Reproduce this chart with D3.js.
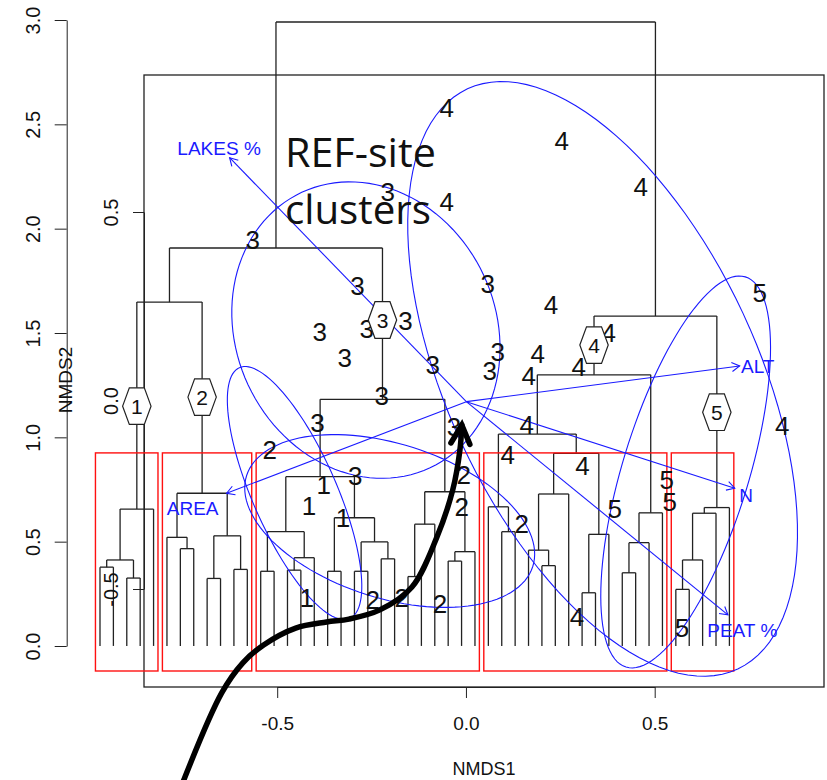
<!DOCTYPE html>
<html><head><meta charset="utf-8">
<script src="https://cdn.jsdelivr.net/npm/d3@7"></script>
<style>body{margin:0;background:#fff}svg{display:block}</style>
</head><body>
<svg id="c" width="827" height="780"></svg>
<script>
// ---------- DATA ----------
const xTicks = [-0.5, 0, 0.5];
const yTicks = [0, 0.5, 1, 1.5, 2, 2.5, 3];
const dendroTicks = [-0.5, 0, 0.5];
const xTitle = "NMDS1", yTitle = "NMDS2";

// NMDS site scores per REF-site cluster
const siteGroup1 = [[-0.377,0.772],[-0.416,0.671],[-0.326,0.613],[-0.422,0.230]];
const siteGroup2 = [[-0.520,0.939],[-0.006,0.820],[-0.011,0.666],[0.148,0.585],[-0.247,0.220],[-0.170,0.230],[-0.069,0.201]];
const siteGroup3 = [[-0.207,2.176],[-0.565,1.946],[-0.287,1.725],[0.058,1.735],[-0.387,1.505],[-0.263,1.519],[-0.160,1.558],[-0.321,1.380],[-0.088,1.347],[0.084,1.409],[0.063,1.318],[-0.223,1.198],[-0.393,1.069],[-0.032,1.050],[-0.293,0.815]];
const siteGroup4 = [[-0.051,2.578],[0.254,2.420],[0.463,2.200],[-0.051,2.128],[0.225,1.634],[0.378,1.500],[0.190,1.399],[0.299,1.337],[0.166,1.294],[0.161,1.059],[0.111,0.915],[0.309,0.863],[0.838,1.054],[0.294,0.139]];
const siteGroup5 = [[0.778,1.692],[0.532,0.796],[0.540,0.690],[0.394,0.657],[0.572,0.086]];
const siteGroups = [siteGroup1, siteGroup2, siteGroup3, siteGroup4, siteGroup5];

// cluster ellipses: centre and conjugate semi-axes (NMDS units)
const ellipseCentre = [[-0.454,0.733],[-0.202,0.599],[-0.265,1.514],[0.362,1.280],[0.582,0.834]];
const ellipseAxisU  = [[0.146,-0.601],[0.379,-0.218],[0.170,-0.660],[0.358,-1.390],[-0.158,-0.935]];
const ellipseAxisV  = [[-0.102,-0.081],[-0.062,-0.352],[-0.312,-0.263],[-0.372,-0.314],[-0.160,0.088]];

// environmental fitted vectors
const envNames = ["LAKES %", "ALT", "N", "PEAT %", "AREA"];
const envX = [-0.626, 0.725, 0.712, 0.694, -0.634];
const envY = [2.340, 1.342, 0.756, 0.149, 0.732];
const envLabX = [-0.654, 0.773, 0.742, 0.732, -0.724];
const envLabY = [2.385, 1.342, 0.724, 0.077, 0.660];
const envOrigin = [0.001, 1.171];

// dendrogram (hclust, hang = -1): [height, left, right], leaves = order index
const c1 = [-0.288, [-0.423, [-0.442, 1, 2], [-0.471, 3, 4]], 5];
const c2 = [-0.246, [-0.363, 6, [-0.393, 7, 8]], [-0.359, [-0.472, 9, 10], [-0.448, 11, 12]]];
const c3 = [0.003,
  [-0.202,
    [-0.348, [-0.453, 13, 14], [-0.417, [-0.450, 15, 16], 17]],
    [-0.311, [-0.453, 18, 19], [-0.375, [-0.453, 20, 21], [-0.420, 22, 23]]]],
  [-0.242,
    [-0.328, [-0.467, 24, 25], 26],
    [-0.401, [-0.426, 27, 28], 29]]];
const c4 = [0.068,
  [-0.089,
    [-0.282, 30, [-0.348, 31, 32]],
    [-0.140,
      [-0.248, [-0.397, 33, [-0.438, 34, 35]], 36],
      [-0.355, [-0.510, 37, 38], 39]]],
  [-0.298, [-0.377, [-0.457, 40, 41], 42], 43]];
const c5 = [-0.284, [-0.299, [-0.423, [-0.501, 44, 45], 46], 47], 48];
const dendroRoot = [1.004, [0.4045, [0.261, c1, c2], c3], [0.224, c4, c5]];
const nLeaves = 48;
const leafHeight = -0.651;
const clusterLeafRange = [[1,5],[6,12],[13,29],[30,43],[44,48]];
const clusterRectTop = -0.139, clusterRectBottom = -0.7175;
const clusterMarkH = [-0.015, 0.009, 0.2135, 0.147, -0.031];
const clusterNames = ["1","2","3","4","5"];

// annotation arrow path (NMDS units)
const annotX = [-0.760,-0.647,-0.591,-0.536,-0.451,-0.369,-0.310,-0.228,-0.143,-0.077,-0.035,-0.016,-0.011];
const annotY = [-0.700,-0.225,-0.081,0.005,0.086,0.115,0.129,0.173,0.283,0.522,0.748,0.939,1.059];
const annotText = ["REF-site", "clusters"];

// ---------- SCALES ----------
const svg = d3.select("#c");
const x = d3.scaleLinear().domain([-0.5, 0.5]).range([277.2, 654.7]);
const y = d3.scaleLinear().domain([0, 3]).range([646, 20]);
const leafX = d3.scaleLinear().domain([1, nLeaves]).range([100, 729.4]);
const hY = d3.scaleLinear().domain([-0.5, 0.5]).range([589, 212]);
const AX = "Liberation Sans, Arial, sans-serif";
const fmt = d => d.toFixed(1);
const blue = "#1a1aff";

// ---------- DENDROGRAM ----------
const gD = svg.append("g");
const segs = [];
function lay(node) {
  if (typeof node === "number") return {x: leafX(node), h: leafHeight};
  const [h, a, b] = node;
  const A = lay(a), B = lay(b);
  segs.push([A.x, hY(h), B.x, hY(h)]);
  segs.push([A.x, hY(A.h), A.x, hY(h)]);
  segs.push([B.x, hY(B.h), B.x, hY(h)]);
  node._x = (A.x + B.x) / 2;
  return {x: node._x, h: h};
}
lay(dendroRoot);
gD.selectAll("line").data(segs).join("line")
  .attr("x1", d => d[0]).attr("y1", d => d[1]).attr("x2", d => d[2]).attr("y2", d => d[3])
  .attr("stroke", "#222").attr("stroke-width", 1.3);

// inner box + dendrogram axis
svg.append("rect").attr("x", 144).attr("y", 75).attr("width", 680).attr("height", 612)
  .attr("fill", "none").attr("stroke", "#222").attr("stroke-width", 1.3);
const gIA = svg.append("g").attr("transform", "translate(144,0)")
  .call(d3.axisLeft(hY).tickValues(dendroTicks).tickSize(11).tickSizeOuter(0).tickFormat(fmt));
gIA.select(".domain").attr("stroke", "#222");
gIA.selectAll(".tick line").attr("stroke", "#222");
gIA.selectAll("text").attr("transform", "rotate(-90)").attr("x", 0).attr("y", -26).attr("dy", 0)
  .attr("text-anchor", "middle").attr("font-family", AX).attr("font-size", 20).attr("fill", "#111");

// red cluster rectangles
svg.append("g").selectAll("rect").data(clusterLeafRange).join("rect")
  .attr("x", d => leafX(d[0] - 1 + 0.66)).attr("width", d => leafX(d[1] + 0.33) - leafX(d[0] - 1 + 0.66))
  .attr("y", hY(clusterRectTop)).attr("height", hY(clusterRectBottom) - hY(clusterRectTop))
  .attr("fill", "none").attr("stroke", "#ff1010").attr("stroke-width", 1.4);

// ---------- OUTER AXES ----------
const gY = svg.append("g").attr("transform", "translate(66.7,0)")
  .call(d3.axisLeft(y).tickValues(yTicks).tickSize(12).tickSizeOuter(0).tickFormat(fmt));
gY.selectAll("path,line").attr("stroke", "#222");
gY.selectAll("text").attr("transform", "rotate(-90)").attr("x", 0).attr("y", -27).attr("dy", 0)
  .attr("text-anchor", "middle").attr("font-family", AX).attr("font-size", 20).attr("fill", "#111");
const gX = svg.append("g").attr("transform", "translate(0,687)")
  .call(d3.axisBottom(x).tickValues(xTicks).tickSize(11).tickSizeOuter(0).tickFormat(fmt));
gX.selectAll("path,line").attr("stroke", "#222");
gX.selectAll("text").attr("y", 0).attr("dy", 43).attr("font-family", AX).attr("font-size", 19).attr("fill", "#111");
svg.append("text").attr("x", 484).attr("y", 775).attr("text-anchor", "middle")
  .attr("font-family", AX).attr("font-size", 18).attr("fill", "#111").text(xTitle);
svg.append("text").attr("transform", "translate(71.5,380) rotate(-90)").attr("text-anchor", "middle")
  .attr("font-family", AX).attr("font-size", 19).attr("fill", "#111").text(yTitle);

// ---------- ELLIPSES ----------
const tt = d3.range(0, 121).map(i => i / 120 * 2 * Math.PI);
const lineXY = d3.line().x(d => x(d[0])).y(d => y(d[1]));
svg.append("g").selectAll("path").data(ellipseCentre).join("path")
  .attr("d", (c, i) => lineXY(tt.map(t => [
      c[0] + ellipseAxisU[i][0] * Math.cos(t) + ellipseAxisV[i][0] * Math.sin(t),
      c[1] + ellipseAxisU[i][1] * Math.cos(t) + ellipseAxisV[i][1] * Math.sin(t)])))
  .attr("fill", "none").attr("stroke", blue).attr("stroke-width", 1.1);

// ---------- ENV ARROWS ----------
const gE = svg.append("g").attr("stroke", blue).attr("stroke-width", 1.1).attr("fill", "none");
envNames.forEach((nm, i) => {
  const x0 = x(envOrigin[0]), y0 = y(envOrigin[1]), x1 = x(envX[i]), y1 = y(envY[i]);
  gE.append("line").attr("x1", x0).attr("y1", y0).attr("x2", x1).attr("y2", y1);
  const a = Math.atan2(y1 - y0, x1 - x0), L = 9, w = Math.PI / 6;
  gE.append("path").attr("d", `M${x1 - L * Math.cos(a - w)},${y1 - L * Math.sin(a - w)}L${x1},${y1}L${x1 - L * Math.cos(a + w)},${y1 - L * Math.sin(a + w)}`);
});
svg.append("g").selectAll("text").data(envNames).join("text")
  .attr("x", (d, i) => x(envLabX[i])).attr("y", (d, i) => y(envLabY[i])).attr("dy", "0.35em")
  .attr("text-anchor", "middle").attr("font-family", AX).attr("font-size", 19).attr("fill", blue)
  .text(d => d);

// ---------- SITE LABELS ----------
const gP = svg.append("g").attr("font-family", AX).attr("font-size", 26).attr("fill", "#111").attr("text-anchor", "middle");
siteGroups.forEach((g, k) => {
  gP.selectAll(null).data(g).join("text")
    .attr("x", d => x(d[0])).attr("y", d => y(d[1])).attr("dy", "0.35em").text(clusterNames[k]);
});

// ---------- CLUSTER HEXAGONS ----------
const clusterNodes = [c1, c2, c3, c4, c5];
const hex = [[-14.2,0],[-7.5,-18.3],[7.5,-18.3],[14.2,0],[7.5,18.3],[-7.5,18.3]];
const gH = svg.append("g");
clusterNodes.forEach((n, k) => {
  const cx = n._x, cy = hY(clusterMarkH[k]);
  gH.append("polygon").attr("points", hex.map(p => [cx + p[0], cy + p[1]].join(",")).join(" "))
    .attr("fill", "#fff").attr("stroke", "#222").attr("stroke-width", 1.2);
  gH.append("text").attr("x", cx).attr("y", cy).attr("dy", "0.36em").attr("text-anchor", "middle")
    .attr("font-family", AX).attr("font-size", 21).attr("fill", "#111").text(clusterNames[k]);
});

// ---------- ANNOTATION ----------
const gT = svg.append("g").attr("font-family", "Open Sans, Noto Sans, sans-serif").attr("font-size", 40).attr("fill", "#111");
gT.append("text").attr("x", x(-0.4795)).attr("y", y(2.2955)).attr("textLength", 151).attr("lengthAdjust", "spacingAndGlyphs").text(annotText[0]);
gT.append("text").attr("x", x(-0.4795)).attr("y", y(2.0223)).attr("textLength", 146).attr("lengthAdjust", "spacingAndGlyphs").text(annotText[1]);

const apts = annotX.map((v, i) => [v, annotY[i]]);
svg.append("path").attr("d", d3.line().x(d => x(d[0])).y(d => y(d[1])).curve(d3.curveCatmullRom)(apts))
  .attr("fill", "none").attr("stroke", "#000").attr("stroke-width", 5.5).attr("stroke-linecap", "round");
{
  const p1 = apts[apts.length - 1], p0 = apts[apts.length - 2];
  const tx = x(p1[0]), ty = y(p1[1]);
  const a = Math.atan2(ty - y(p0[1]), tx - x(p0[0])), L = 21, w = 0.47;
  svg.append("path").attr("d", `M${tx - L * Math.cos(a - w)},${ty - L * Math.sin(a - w)}L${tx},${ty}L${tx - L * Math.cos(a + w)},${ty - L * Math.sin(a + w)}`)
    .attr("fill", "none").attr("stroke", "#000").attr("stroke-width", 5.5).attr("stroke-linejoin", "miter").attr("stroke-linecap", "round");
}
</script>
</body></html>
